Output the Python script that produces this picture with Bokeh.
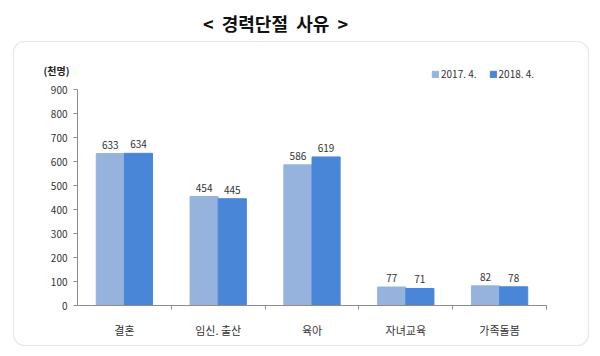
from bokeh.plotting import figure
from bokeh.models import (ColumnDataSource, FixedTicker, Label, BoxAnnotation,
                          Legend, LegendItem, Range1d)
from bokeh.core.properties import value
from bokeh.embed import file_html
from bokeh.resources import INLINE

categories = ["결혼", "임신. 출산", "육아", "자녀교육", "가족돌봄"]
series_names = ["2017. 4.", "2018. 4."]
values_2017 = [633, 454, 586, 77, 82]
values_2018 = [634, 445, 619, 71, 78]
y_ticks = [0, 100, 200, 300, 400, 500, 600, 700, 800, 900]
title_text = "<\u00a0 경력단절\u00a0 사유\u00a0 >"

FONT = "Noto Sans CJK KR"
C17 = "#95B3DC"
C18 = "#4A86D8"

W, H = 600, 356
PL, PT, PR, PB = 77, 89, 546, 305  # plot area on the canvas (pixels)
n = len(categories)
ymax = y_ticks[-1]
xs = (PR - PL) / n          # px per category
ys = (PB - PT) / ymax       # px per unit


def cx(px):
    return (px - PL) / xs


def cy(py):
    return (PB - py) / ys


p = figure(width=W, height=H, output_backend="svg", toolbar_location=None,
           x_range=Range1d(cx(0), cx(W)), y_range=Range1d(cy(H), cy(0)),
           min_border=0)
p.outline_line_color = None
p.grid.grid_line_color = None
p.background_fill_color = "white"
p.border_fill_color = "white"

# rounded box around chart
box = BoxAnnotation(left=cx(13), right=cx(588), bottom=cy(345), top=cy(41),
                    fill_alpha=0, line_color="#b4b4b4", line_width=1.2,
                    border_radius=11, level="underlay")
p.add_layout(box)

idx = list(range(n))
bw = 0.3
src = ColumnDataSource(dict(
    x17=[i + 0.5 - bw / 2 for i in idx],
    x18=[i + 0.5 + bw / 2 for i in idx],
    v17=values_2017, v18=values_2018,
    t17=[str(v) for v in values_2017], t18=[str(v) for v in values_2018],
))
r17 = p.vbar(x="x17", top="v17", width=bw, source=src, fill_color=C17, line_color=C17)
r18 = p.vbar(x="x18", top="v18", width=bw, source=src, fill_color=C18, line_color=C18)

for xk, yk, tk in (("x17", "v17", "t17"), ("x18", "v18", "t18")):
    p.text(x=xk, y=yk, text=tk, source=src, text_font=value(FONT),
           text_font_size="10px", text_color="#333333", text_align="center",
           text_baseline="bottom", y_offset=-5)

# axes
ya = p.yaxis[0]
ya.fixed_location = 0
ya.bounds = (0, ymax)
ya.ticker = FixedTicker(ticks=y_ticks)
ya.axis_line_color = "#8c8c8c"
ya.major_tick_line_color = "#8c8c8c"
ya.major_tick_out = 4
ya.major_tick_in = 0
ya.minor_tick_line_color = None
ya.major_label_text_font = FONT
ya.major_label_text_font_size = "10px"
ya.major_label_text_color = "#333333"
ya.major_label_standoff = 6

xa = p.xaxis[0]
xa.fixed_location = 0
xa.bounds = (0, n)
xa.ticker = FixedTicker(ticks=[i + 0.5 for i in idx],
                        minor_ticks=[i + 1 for i in idx])
xa.major_label_overrides = {i + 0.5: c for i, c in zip(idx, categories)}
xa.axis_line_color = "#8c8c8c"
xa.major_tick_line_color = None
xa.minor_tick_line_color = "#8c8c8c"
xa.minor_tick_out = 4
xa.minor_tick_in = 0
xa.major_label_text_font = FONT
xa.major_label_text_font_size = "11px"
xa.major_label_text_color = "#333333"
xa.major_label_standoff = 10

# title
p.add_layout(Label(x=cx(275), y=cy(22), text=title_text, text_font=FONT,
                   text_font_size="18px", text_font_style="bold",
                   text_color="#111111", text_align="center",
                   text_baseline="middle"))
# unit label
p.add_layout(Label(x=cx(56), y=cy(70), text="(천명)", text_font=FONT,
                   text_font_size="10px", text_font_style="bold",
                   text_color="#222222", text_align="center",
                   text_baseline="middle"))

legend = Legend(items=[LegendItem(label=series_names[0], renderers=[r17]),
                       LegendItem(label=series_names[1], renderers=[r18])],
                orientation="horizontal", location=(431, H - 81),
                background_fill_alpha=0, border_line_color=None,
                label_text_font=FONT, label_text_font_size="10px",
                label_text_color="#333333", glyph_width=8, glyph_height=8,
                label_standoff=2, spacing=12, padding=0, margin=0,
                label_height=12)
p.add_layout(legend, "center")

open("out.html", "w").write(file_html(p, INLINE))
